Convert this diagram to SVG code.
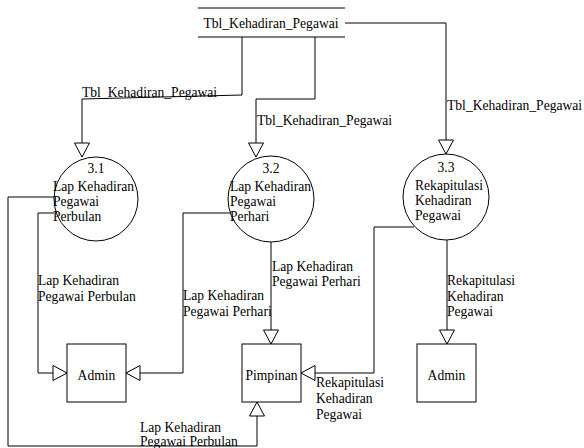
<svg xmlns="http://www.w3.org/2000/svg" width="584" height="448" viewBox="0 0 584 448">
<style>
text{font-family:'Liberation Serif','Times New Roman','DejaVu Serif',serif;font-size:13.6px;fill:#000}
.c{text-anchor:middle}
.ln{fill:none;stroke:#000;stroke-width:1}
.nd{fill:#fff;stroke:#000;stroke-width:1}
</style>
<defs>
<marker id="ar" markerUnits="userSpaceOnUse" markerWidth="16" markerHeight="17" viewBox="-1 -1 16 17" refX="14" refY="7.5" orient="auto">
<path d="M0,0 L14,7.5 L0,15 Z" fill="#fff" stroke="#000" stroke-width="1"/>
</marker>
</defs>
<rect width="584" height="448" fill="#fff"/>
<g id="store">
<line class="ln" x1="198" y1="8" x2="345" y2="8"/>
<line class="ln" x1="198" y1="37" x2="345" y2="37"/>
<text x="271" y="28" class="c">Tbl_Kehadiran_Pegawai</text>
</g>
<g id="p31">
<circle class="nd" cx="96" cy="199" r="42"/>
<text x="96" y="173" class="c">3.1</text>
<text x="53" y="191">Lap Kehadiran</text>
<text x="53" y="206">Pegawai</text>
<text x="53" y="221">Perbulan</text>
</g>
<g id="p32">
<circle class="nd" cx="271" cy="199" r="43"/>
<text x="271" y="173" class="c">3.2</text>
<text x="230" y="191">Lap Kehadiran</text>
<text x="230" y="206">Pegawai</text>
<text x="230" y="221">Perhari</text>
</g>
<g id="p33">
<circle class="nd" cx="446" cy="197" r="43"/>
<text x="446" y="172" class="c">3.3</text>
<text x="415" y="190">Rekapitulasi</text>
<text x="415" y="205">Kehadiran</text>
<text x="415" y="220">Pegawai</text>
</g>
<g id="admin1">
<rect class="nd" x="67" y="344" width="59" height="58"/>
<text x="96.5" y="380" class="c">Admin</text>
</g>
<g id="pimpinan">
<rect class="nd" x="242" y="344" width="59" height="58"/>
<text x="271.5" y="380" class="c">Pimpinan</text>
</g>
<g id="admin2">
<rect class="nd" x="417" y="344" width="59" height="58"/>
<text x="446.5" y="380" class="c">Admin</text>
</g>
<g id="connectors">
<polyline class="ln" points="242,37 242,95 82,99 82,157" marker-end="url(#ar)"/>
<polyline class="ln" points="315,37 315,99 256,99 256,157" marker-end="url(#ar)"/>
<polyline class="ln" points="345,23 446,23 446,154" marker-end="url(#ar)"/>
<polyline class="ln" points="54,213 38,213 38,373 67,373" marker-end="url(#ar)"/>
<polyline class="ln" points="54,197 8,197 8,446 257,446 257,402" marker-end="url(#ar)"/>
<polyline class="ln" points="230,213 183,213 183,373 126,373" marker-end="url(#ar)"/>
<polyline class="ln" points="271,242 271,344" marker-end="url(#ar)"/>
<polyline class="ln" points="414,227 374,227 374,373 301,373" marker-end="url(#ar)"/>
<polyline class="ln" points="447,240 447,344" marker-end="url(#ar)"/>
<text x="82" y="97">Tbl_Kehadiran_Pegawai</text>
<text x="257" y="125">Tbl_Kehadiran_Pegawai</text>
<text x="447" y="110">Tbl_Kehadiran_Pegawai</text>
<text x="38" y="285">Lap Kehadiran</text>
<text x="38" y="301">Pegawai Perbulan</text>
<text x="183" y="300">Lap Kehadiran</text>
<text x="183" y="316">Pegawai Perhari</text>
<text x="272" y="271">Lap Kehadiran</text>
<text x="272" y="286">Pegawai Perhari</text>
<text x="316" y="387">Rekapitulasi</text>
<text x="316" y="403">Kehadiran</text>
<text x="316" y="419">Pegawai</text>
<text x="447" y="285">Rekapitulasi</text>
<text x="447" y="301">Kehadiran</text>
<text x="447" y="316">Pegawai</text>
<text x="140" y="432">Lap Kehadiran</text>
<text x="140" y="446">Pegawai Perbulan</text>
</g>
</svg>
